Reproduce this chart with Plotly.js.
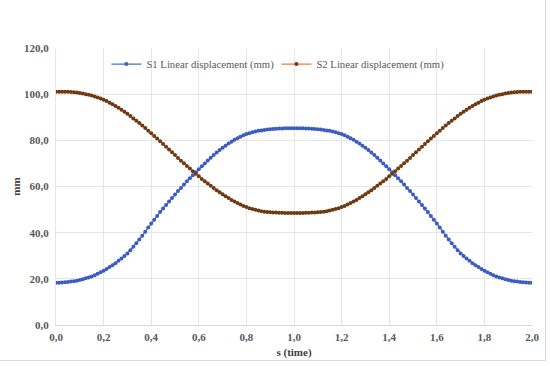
<!DOCTYPE html>
<html>
<head>
<meta charset="utf-8">
<script src="https://cdn.plot.ly/plotly-3.0.1.min.js"></script>
<style>
  html, body { margin: 0; padding: 0; background: #fff; }
  #wrap { position: relative; width: 550px; height: 366px; }
  #frame { position: absolute; left: -2px; top: -2px; width: 547px; height: 362px;
           border-right: 1px solid #d9d9d9; border-bottom: 1px solid #d9d9d9; }
  #chart { position: absolute; left: 0; top: 0; width: 550px; height: 366px; }
</style>
</head>
<body>
<div id="wrap"><div id="frame"></div><div id="chart"></div></div>
<script>
// time step between samples (s)
const timeStep = 0.0125;

const seriesNames = ["S1 Linear displacement (mm)", "S2 Linear displacement (mm)"];

const s1Values = [
  18.3, 18.3, 18.4, 18.5, 18.6, 18.8, 19.0, 19.2, 19.5, 19.8,
  20.2, 20.6, 21.0, 21.6, 22.2, 22.8, 23.5, 24.3, 25.1, 25.9,
  26.8, 27.8, 28.8, 29.9, 31.0, 32.4, 33.9, 35.4, 37.0, 38.7,
  40.4, 42.2, 44.0, 45.6, 47.2, 48.9, 50.5, 52.0, 53.5, 55.0,
  56.5, 58.0, 59.4, 60.9, 62.3, 63.6, 64.9, 66.2, 67.5, 68.8,
  70.0, 71.3, 72.5, 73.6, 74.7, 75.8, 76.8, 77.7, 78.6, 79.4,
  80.2, 80.9, 81.6, 82.2, 82.7, 83.1, 83.5, 83.8, 84.1, 84.3,
  84.5, 84.7, 84.8, 84.9, 85.0, 85.1, 85.1, 85.2, 85.2, 85.2,
  85.2,
  85.2, 85.2, 85.2, 85.1, 85.1, 85.0, 84.9, 84.8, 84.7, 84.5,
  84.3, 84.1, 83.8, 83.5, 83.1, 82.7, 82.2, 81.6, 80.9, 80.2,
  79.4, 78.6, 77.7, 76.8, 75.8, 74.7, 73.6, 72.5, 71.3, 70.0,
  68.8, 67.5, 66.2, 64.9, 63.6, 62.3, 60.9, 59.4, 58.0, 56.5,
  55.0, 53.5, 52.0, 50.5, 48.9, 47.2, 45.6, 44.0, 42.2, 40.4,
  38.7, 37.0, 35.4, 33.9, 32.4, 31.0, 29.9, 28.8, 27.8, 26.8,
  25.9, 25.1, 24.3, 23.5, 22.8, 22.2, 21.6, 21.0, 20.6, 20.2,
  19.8, 19.5, 19.2, 19.0, 18.8, 18.6, 18.5, 18.4, 18.3, 18.3
];

const s2Values = [
  101.1, 101.1, 101.1, 101.0, 101.0, 100.9, 100.8, 100.7, 100.5, 100.3,
  100.0, 99.7, 99.4, 99.0, 98.6, 98.1, 97.6, 97.0, 96.3, 95.6,
  94.9, 94.1, 93.3, 92.4, 91.5, 90.5, 89.5, 88.5, 87.5, 86.4,
  85.3, 84.2, 83.1, 81.9, 80.8, 79.6, 78.4, 77.2, 76.0, 74.8,
  73.6, 72.4, 71.2, 70.1, 68.9, 67.8, 66.6, 65.5, 64.4, 63.3,
  62.3, 61.3, 60.3, 59.3, 58.4, 57.5, 56.6, 55.8, 55.0, 54.2,
  53.5, 52.8, 52.2, 51.6, 51.1, 50.6, 50.2, 49.9, 49.6, 49.3,
  49.1, 48.9, 48.8, 48.7, 48.7, 48.6, 48.6, 48.5, 48.5, 48.5,
  48.5,
  48.5, 48.5, 48.5, 48.6, 48.6, 48.7, 48.7, 48.8, 48.9, 49.1,
  49.3, 49.6, 49.9, 50.2, 50.6, 51.1, 51.6, 52.2, 52.8, 53.5,
  54.2, 55.0, 55.8, 56.6, 57.5, 58.4, 59.3, 60.3, 61.3, 62.3,
  63.3, 64.4, 65.5, 66.6, 67.8, 68.9, 70.1, 71.2, 72.4, 73.6,
  74.8, 76.0, 77.2, 78.4, 79.6, 80.8, 81.9, 83.1, 84.2, 85.3,
  86.4, 87.5, 88.5, 89.5, 90.5, 91.5, 92.4, 93.3, 94.1, 94.9,
  95.6, 96.3, 97.0, 97.6, 98.1, 98.6, 99.0, 99.4, 99.7, 100.0,
  100.3, 100.5, 100.7, 100.8, 100.9, 101.0, 101.0, 101.1, 101.1, 101.1
];

const xTickVals = [0, 0.2, 0.4, 0.6, 0.8, 1.0, 1.2, 1.4, 1.6, 1.8, 2.0];
const yTickVals = [0, 20, 40, 60, 80, 100, 120];

const timeValues = s1Values.map((_, i) => +(i * timeStep).toFixed(4));

const traces = [
  {
    x: timeValues, y: s1Values, name: seriesNames[0],
    type: 'scatter', mode: 'lines+markers',
    line: { color: '#4472C4', width: 1.25 },
    marker: { color: '#3B5DC2', size: 4, symbol: 'circle' }
  },
  {
    x: timeValues, y: s2Values, name: seriesNames[1],
    type: 'scatter', mode: 'lines+markers',
    line: { color: '#ED7D31', width: 1.25 },
    marker: { color: '#6E3A12', size: 4, symbol: 'circle' }
  }
];

const serif = '"Liberation Serif", "Times New Roman", serif';
const tickFont = { family: serif, size: 11, color: '#595959', weight: 'bold' };

const layout = {
  width: 550, height: 366,
  margin: { l: 56, r: 18, t: 48, b: 41 },
  paper_bgcolor: 'rgba(0,0,0,0)',
  plot_bgcolor: '#ffffff',
  separators: ', ',
  showlegend: true,
  legend: {
    orientation: 'h', x: 0.463, xanchor: 'center', y: 0.942, yanchor: 'middle',
    font: { family: serif, size: 10.7, color: '#595959' },
    bgcolor: 'rgba(0,0,0,0)', itemwidth: 30,
    entrywidth: 125, entrywidthmode: 'pixels'
  },
  xaxis: {
    range: [0, 2], tickvals: xTickVals, tickformat: '.1f',
    showgrid: true, gridcolor: '#e6e6e6', gridwidth: 1,
    zeroline: false, showline: true, linecolor: '#d9d9d9', linewidth: 1,
    ticks: '', tickfont: tickFont, ticklabelstandoff: 2,
    title: { text: 's (time)', font: { family: serif, size: 11, color: '#404040', weight: 'bold' }, standoff: 6 }
  },
  yaxis: {
    range: [0, 120], tickvals: yTickVals, tickformat: '.1f',
    showgrid: true, gridcolor: '#e6e6e6', gridwidth: 1,
    zeroline: false, showline: true, linecolor: '#e6e6e6', linewidth: 1,
    ticks: '', ticklabelstandoff: 4,
    tickfont: tickFont,
    title: { text: 'mm', font: { family: serif, size: 11, color: '#404040', weight: 'bold' }, standoff: 1 }
  }
};

Plotly.newPlot('chart', traces, layout, { displayModeBar: false, staticPlot: true });
</script>
</body>
</html>
